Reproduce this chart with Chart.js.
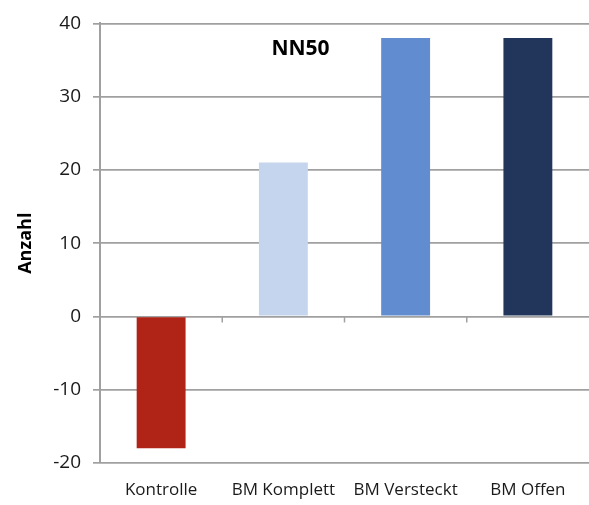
<!DOCTYPE html>
<html>
<head>
<meta charset="utf-8">
<script src="https://cdn.jsdelivr.net/npm/chart.js@4/dist/chart.umd.min.js"></script>
<style>
  html, body { margin: 0; padding: 0; background: #ffffff; }
  #wrap { width: 589px; height: 505px; }
</style>
</head>
<body>
<div id="wrap"><canvas id="c" width="589" height="505"></canvas></div>
<script>
// NN50 counts per group
const categories = ['Kontrolle', 'BM Komplett', 'BM Versteckt', 'BM Offen'];
const nn50Values = [-18, 21, 38, 38];
const barColors = ['#b02418', '#c6d5ee', '#618cd0', '#22365c'];
const yTicks = { min: -20, max: 40, step: 10 };

const FONT = "'Open Sans', 'Liberation Sans', sans-serif";
const GRID = '#a0a0a0';

// Small tick marks hanging below the zero line at category boundaries,
// plus the chart heading inside the plot area.
const zeroTicks = {
  id: 'zeroTicks',
  afterDatasetsDraw(chart) {
    const { ctx, scales } = chart;
    const x = scales.x, y = scales.y;
    const y0 = y.getPixelForValue(0);
    ctx.save();
    ctx.strokeStyle = GRID;
    ctx.lineWidth = 1.5;
    for (let i = 0; i < categories.length - 1; i++) {
      const bx = (x.getPixelForValue(i) + x.getPixelForValue(i + 1)) / 2;
      ctx.beginPath();
      ctx.moveTo(bx, y0);
      ctx.lineTo(bx, y0 + 6);
      ctx.stroke();
    }
    ctx.fillStyle = '#000000';
    ctx.font = "bold 21px " + FONT;
    ctx.textAlign = 'center';
    ctx.textBaseline = 'middle';
    ctx.fillText('NN50', chart.width / 2 + 6, 49);
    ctx.restore();
  }
};

new Chart(document.getElementById('c'), {
  type: 'bar',
  data: {
    labels: categories,
    datasets: [{
      data: nn50Values,
      backgroundColor: barColors,
      borderWidth: 0,
      barPercentage: 0.4,
      categoryPercentage: 1.0
    }]
  },
  options: {
    responsive: false,
    animation: false,
    devicePixelRatio: 1,
    layout: { padding: { top: 23, right: 0, bottom: 0, left: 0 } },
    plugins: {
      legend: { display: false },
      tooltip: { enabled: false },
      title: { display: false }
    },
    scales: {
      x: {
        offset: true,
        grid: { display: false, drawTicks: false },
        border: { display: false },
        ticks: {
          color: '#1a1a1a',
          font: { family: FONT, size: 17 },
          padding: 17,
          maxRotation: 0,
          autoSkip: false
        },
        afterFit(scale) { scale.height = 42; }
      },
      y: {
        min: yTicks.min,
        max: yTicks.max,
        ticks: {
          stepSize: yTicks.step,
          color: '#1a1a1a',
          font: { family: FONT, size: 19 },
          padding: 12
        },
        grid: {
          color: GRID,
          lineWidth: 1.7,
          tickLength: 7,
          drawTicks: true
        },
        border: { display: true, color: GRID, width: 2 },
        title: {
          display: true,
          text: 'Anzahl',
          color: '#000000',
          font: { family: FONT, size: 18, weight: 'bold' },
          padding: { top: 15, bottom: 0 }
        },
        afterFit(scale) { scale.width = 100; }
      }
    }
  },
  plugins: [zeroTicks]
});
</script>
</body>
</html>
